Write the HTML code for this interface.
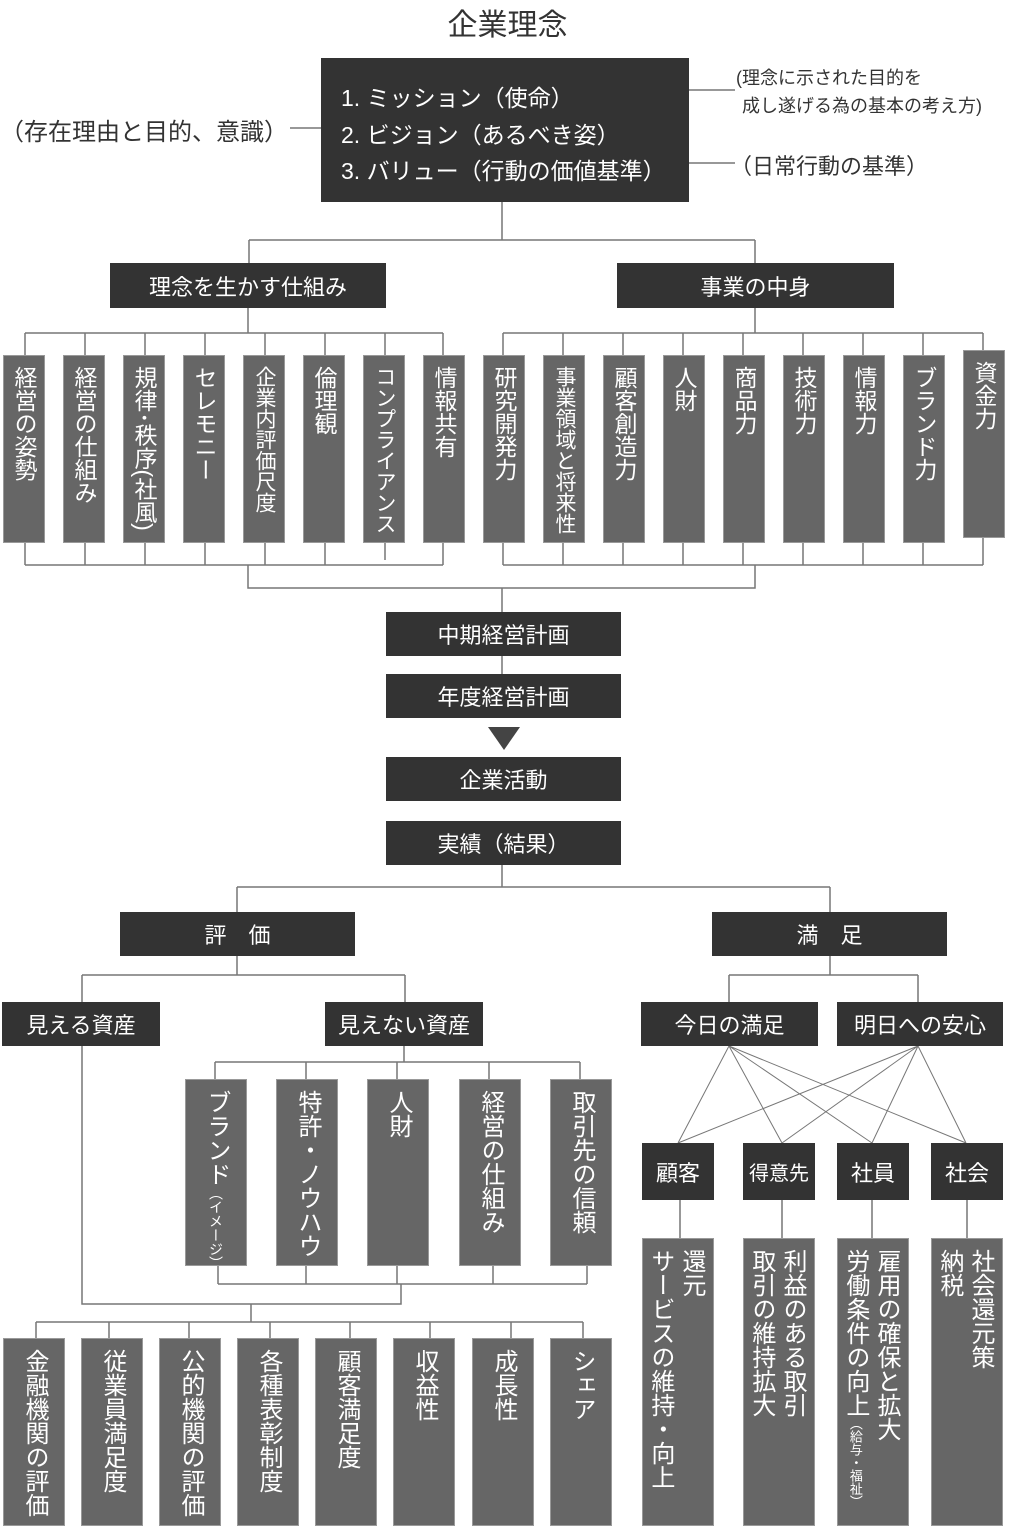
<!DOCTYPE html>
<html><head><meta charset="utf-8"><style>
body{margin:0;width:1015px;height:1527px;background:#fff;position:relative;overflow:hidden;font-family:"Liberation Sans","Noto Sans CJK JP",sans-serif;}
.a{position:absolute;}
.d{position:absolute;background:#333;color:#fff;display:flex;align-items:center;justify-content:center;font-size:22px;}
.v{position:absolute;background:#666;color:#fff;border:1px solid #999;box-sizing:border-box;writing-mode:vertical-rl;font-size:23px;line-height:1.05;padding-top:10px;padding-right:8px;white-space:nowrap;}
.w{padding-right:17px;font-size:24px;}
.m{padding-right:6px;font-size:24px;white-space:normal;line-height:1.3;}
.t{position:absolute;font-size:19px;color:#333;white-space:nowrap;}
</style></head><body>
<svg class="a" style="left:0;top:0" width="1015" height="1527"><g stroke="#777" stroke-width="1.5" fill="none">
<path d="M290 128H321M689 90H735M689 163H735"/>
<path d="M502 202V240M249 240H755M249 240V263M755 240V263"/>
<path d="M248 308V333M25 333H443M755 308V333M503 333H983"/>
<path d="M25 333V355M85 333V355M145 333V355M205 333V355M265 333V355M325 333V355M385 333V355M443 333V355"/>
<path d="M503 333V355M563 333V355M623 333V355M683 333V355M743 333V355M803 333V355M863 333V355M923 333V355M983 333V350"/>
<path d="M25 543V565M85 543V565M145 543V565M205 543V565M265 543V565M325 543V565M385 543V560M443 543V565M25 565H443"/>
<path d="M503 543V565M563 543V565M623 543V565M683 543V565M743 543V565M803 543V565M863 543V565M923 543V565M983 538V565M503 565H983"/>
<path d="M248 565V588H755V565M502 588V612M502 656V674"/>
<path d="M502 865V887M237 887H830M237 887V912M830 887V912"/>
<path d="M237 956V975M82 975H405M82 975V1002M405 975V1002"/>
<path d="M404 1046V1062M215 1062H580M215 1062V1079M306 1062V1079M397 1062V1079M489 1062V1079M580 1062V1079"/>
<path d="M218 1265V1284M306 1265V1284M397 1265V1284M493 1265V1284M587 1265V1284M218 1284H587"/>
<path d="M82 1046V1304H401V1284M251 1304V1322M36 1322H583M36 1322V1338M109 1322V1338M189 1322V1338M270 1322V1338M350 1322V1338M430 1322V1338M511 1322V1338M583 1322V1338"/>
<path d="M830 956V975M729 975H918M729 975V1002M918 975V1002"/>
<path d="M729 1046L678 1143M729 1046L782 1143M729 1046L872 1143M729 1046L966 1143M918 1046L678 1143M918 1046L782 1143M918 1046L872 1143M918 1046L966 1143" stroke-width="1"/>
<path d="M680 1200V1238M782 1200V1238M872 1200V1238M967 1200V1238"/>
</g><polygon points="488,727 520,727 504,750" fill="#444"/></svg>
<div class="t" style="left:0;width:1015px;text-align:center;top:0;font-size:30px;">企業理念</div>
<div class="d" style="left:321px;top:58px;width:368px;height:144px;display:block;font-size:23px;line-height:36.5px;padding:22px 0 0 20px;box-sizing:border-box;">1. ミッション（使命）<br>2. ビジョン（あるべき姿）<br>3. バリュー（行動の価値基準）</div>
<div class="t" style="left:0px;top:112px;font-size:24px;">（存在理由と目的、意識）</div>
<div class="t" style="left:736px;top:64px;font-size:18px;">(理念に示された目的を</div>
<div class="t" style="left:742px;top:92px;font-size:18px;">成し遂げる為の基本の考え方)</div>
<div class="t" style="left:730px;top:149px;font-size:22px;">（日常行動の基準）</div>
<div class="d" style="left:110px;top:263px;width:276px;height:45px;">理念を生かす仕組み</div>
<div class="d" style="left:617px;top:263px;width:277px;height:45px;">事業の中身</div>
<div class="v" style="left:3px;top:355px;width:42px;height:188px;">経営の姿勢</div>
<div class="v" style="left:63px;top:355px;width:42px;height:188px;">経営の仕組み</div>
<div class="v" style="left:123px;top:355px;width:42px;height:188px;">規律･秩序(社風)</div>
<div class="v" style="left:183px;top:355px;width:42px;height:188px;">セレモニー</div>
<div class="v" style="left:243px;top:355px;width:42px;height:188px;font-size:21px;padding-right:9px;">企業内評価尺度</div>
<div class="v" style="left:303px;top:355px;width:42px;height:188px;">倫理観</div>
<div class="v" style="left:363px;top:355px;width:42px;height:188px;font-size:21px;padding-right:9px;">コンプライアンス</div>
<div class="v" style="left:423px;top:355px;width:42px;height:188px;">情報共有</div>
<div class="v" style="left:483px;top:355px;width:42px;height:188px;">研究開発力</div>
<div class="v" style="left:543px;top:355px;width:42px;height:188px;font-size:21px;padding-right:9px;">事業領域と将来性</div>
<div class="v" style="left:603px;top:355px;width:42px;height:188px;">顧客創造力</div>
<div class="v" style="left:663px;top:355px;width:42px;height:188px;">人財</div>
<div class="v" style="left:723px;top:355px;width:42px;height:188px;">商品力</div>
<div class="v" style="left:783px;top:355px;width:42px;height:188px;">技術力</div>
<div class="v" style="left:843px;top:355px;width:42px;height:188px;">情報力</div>
<div class="v" style="left:903px;top:355px;width:42px;height:188px;">ブランド力</div>
<div class="v" style="left:963px;top:350px;width:42px;height:188px;">資金力</div>
<div class="d" style="left:386px;top:612px;width:235px;height:44px;">中期経営計画</div>
<div class="d" style="left:386px;top:674px;width:235px;height:44px;">年度経営計画</div>
<div class="d" style="left:386px;top:757px;width:235px;height:44px;">企業活動</div>
<div class="d" style="left:386px;top:821px;width:235px;height:44px;">実績（結果）</div>
<div class="d" style="left:120px;top:912px;width:235px;height:44px;">評　価</div>
<div class="d" style="left:712px;top:912px;width:235px;height:44px;">満　足</div>
<div class="d" style="left:2px;top:1002px;width:158px;height:44px;">見える資産</div>
<div class="d" style="left:325px;top:1002px;width:158px;height:44px;">見えない資産</div>
<div class="d" style="left:641px;top:1002px;width:177px;height:44px;">今日の満足</div>
<div class="d" style="left:837px;top:1002px;width:166px;height:44px;">明日への安心</div>
<div class="v w" style="left:185px;top:1079px;width:62px;height:187px;">ブランド<span style="font-size:14px">（イメージ）</span></div>
<div class="v w" style="left:276px;top:1079px;width:62px;height:187px;">特許・ノウハウ</div>
<div class="v w" style="left:367px;top:1079px;width:62px;height:187px;">人財</div>
<div class="v w" style="left:459px;top:1079px;width:62px;height:187px;">経営の仕組み</div>
<div class="v w" style="left:550px;top:1079px;width:62px;height:187px;">取引先の信頼</div>
<div class="v w" style="left:3px;top:1338px;width:62px;height:188px;">金融機関の評価</div>
<div class="v w" style="left:81px;top:1338px;width:62px;height:188px;">従業員満足度</div>
<div class="v w" style="left:159px;top:1338px;width:62px;height:188px;">公的機関の評価</div>
<div class="v w" style="left:237px;top:1338px;width:62px;height:188px;">各種表彰制度</div>
<div class="v w" style="left:315px;top:1338px;width:62px;height:188px;">顧客満足度</div>
<div class="v w" style="left:393px;top:1338px;width:62px;height:188px;">収益性</div>
<div class="v w" style="left:472px;top:1338px;width:62px;height:188px;">成長性</div>
<div class="v w" style="left:550px;top:1338px;width:62px;height:188px;">シェア</div>
<div class="d" style="left:642px;top:1143px;width:72px;height:57px;">顧客</div>
<div class="d" style="left:743px;top:1143px;width:72px;height:57px;font-size:20px;">得意先</div>
<div class="d" style="left:837px;top:1143px;width:72px;height:57px;">社員</div>
<div class="d" style="left:931px;top:1143px;width:72px;height:57px;">社会</div>
<div class="v m" style="left:642px;top:1238px;width:72px;height:288px;">還元<br>サービスの維持・向上</div>
<div class="v m" style="left:743px;top:1238px;width:72px;height:288px;">利益のある取引<br>取引の維持拡大</div>
<div class="v m" style="left:837px;top:1238px;width:72px;height:288px;">雇用の確保と拡大<br>労働条件の向上<span style="font-size:13px">（給与・福祉）</span></div>
<div class="v m" style="left:931px;top:1238px;width:72px;height:288px;">社会還元策<br>納税</div>
</body></html>
